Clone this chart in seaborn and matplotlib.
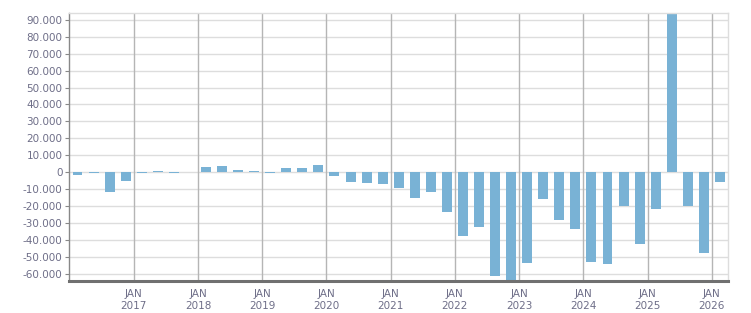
import matplotlib

matplotlib.use("Agg")
import matplotlib.pyplot as plt
import pandas as pd
import seaborn as sns
from matplotlib.ticker import FuncFormatter

# quarterly values, 2016 Q1 .. 2026 Q1
quarters = [f"{y} Q{q}" for y in range(2016, 2027) for q in range(1, 5)][:41]
values = [
    -1400, -300, -12000, -5100,
    -300, 700, -300, -200,
    3100, 3700, 1400, 800,
    -300, 2500, 2500, 4300,
    -2500, -6100, -6700, -6800,
    -9100, -15100, -11600, -23300,
    -37500, -32200, -61600, -64500,
    -53900, -15700, -28000, -33300,
    -53300, -54500, -19800, -42700,
    -21600, 93500, -19800, -47500,
    -5700,
]
years = list(range(2017, 2027))
y_ticks = list(range(-60000, 90001, 10000))

bar_color = "#79b2d5"
text_color = "#6e6e88"

df = pd.DataFrame({"quarter": quarters, "value": values})

sns.set_style("white")
fig = plt.figure(figsize=(7.51, 3.13), dpi=100)
ax = fig.add_axes([0.0925, 0.1022, 0.8768, 0.8562])

sns.barplot(data=df, x="quarter", y="value", order=quarters, color=bar_color,
            saturation=1, width=0.62, linewidth=0, ax=ax)
for p in ax.patches:
    p.set_zorder(3)
    p.set_edgecolor("none")

ax.set_xlim(-0.5, 40.45)
ax.set_ylim(-64300, 94000)

# grid
ax.set_yticks(y_ticks)
ax.yaxis.set_major_formatter(FuncFormatter(lambda v, p: f"{int(v):,}".replace(",", ".")))
for v in y_ticks:
    ax.axhline(v, color="#dddddd", lw=1, zorder=1)
jan_pos = [4 * (y - 2016) - 0.5 for y in years]
for x in jan_pos:
    ax.axvline(x, color="#b5b5b5", lw=1, zorder=2)

ax.set_xticks(jan_pos)
ax.set_xticklabels([f"JAN\n{y}" for y in years])
ax.set_xticks([i - 0.5 for i in range(42)], minor=True)

ax.set_xlabel("")
ax.set_ylabel("")
ax.tick_params(axis="x", which="both", length=3, color="#888888", labelsize=7.5,
               labelcolor=text_color, pad=3)
ax.tick_params(axis="y", length=3, color="#888888", left=True, labelsize=7.5,
               labelcolor=text_color, pad=2)

for s in ["top", "right"]:
    ax.spines[s].set_color("#dddddd")
    ax.spines[s].set_linewidth(1)
ax.spines["left"].set_color("#888888")
ax.spines["left"].set_linewidth(1)
ax.spines["bottom"].set_color("#707070")
ax.spines["bottom"].set_linewidth(2.2)
for s in ax.spines.values():
    s.set_zorder(5)

fig.savefig("out.png", dpi=100)
